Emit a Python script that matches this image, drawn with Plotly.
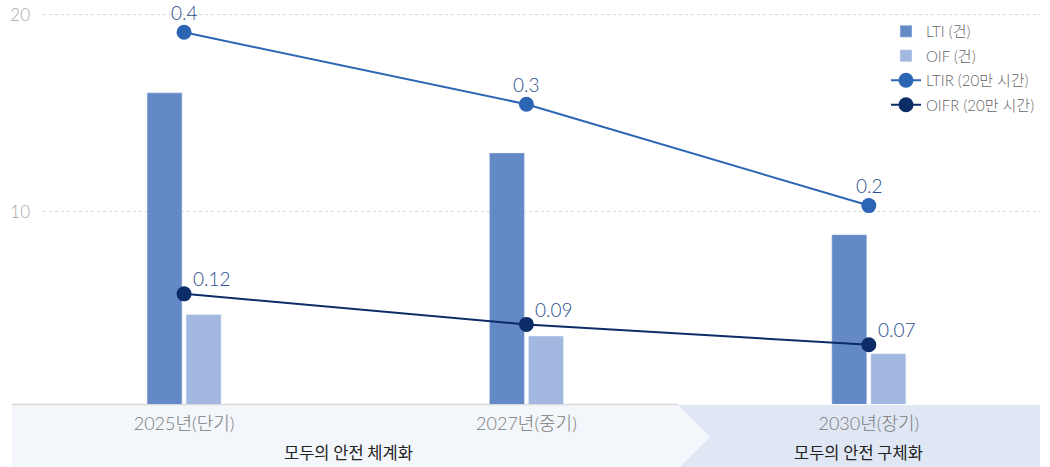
import math
import plotly.graph_objects as go

# ---- data -------------------------------------------------------------
periods = ["2025년(단기)", "2027년(중기)", "2030년(장기)"]
lti_counts = [16.05, 13.0, 8.85]       # LTI (건)
oif_counts = [4.8, 3.7, 2.8]           # OIF (건)
ltir_rates = [0.4, 0.3, 0.2]           # LTIR (20만 시간)
oifr_rates = [0.12, 0.09, 0.07]        # OIFR (20만 시간)
phase_titles = ["모두의 안전 체계화", "모두의 안전 구체화"]

# ---- layout geometry (pixels) ----------------------------------------
W, H = 1050, 467
ML, MR, MT, MB = 43, 10, 0, 63
PW, PH = W - ML - MR, H - MT - MB

def px(x):
    return (x - ML) / PW

def py(y):
    return (H - MB - y) / PH

FONT = "'Noto Sans CJK KR', 'Noto Sans', sans-serif"
NUMFONT = "Lato, 'Noto Sans CJK KR', sans-serif"
C_LTI, C_OIF = "#6389c6", "#a2b8e0"
C_LTIR, C_OIFR = "#2c65b4", "#0c2c68"
C_LABEL = "#2e4f8e"

fig = go.Figure()

fig.add_trace(go.Bar(
    x=periods, y=lti_counts, name="LTI (건)", marker_color=C_LTI,
    legendgroup="a", hoverinfo="skip"))
fig.add_trace(go.Bar(
    x=periods, y=oif_counts, name="OIF (건)", marker_color=C_OIF,
    legendgroup="b", hoverinfo="skip"))

fig.add_trace(go.Scatter(
    x=periods, y=ltir_rates, name="LTIR (20만 시간)", yaxis="y2",
    mode="lines+markers",
    line=dict(color=C_LTIR, width=2), marker=dict(size=15, color=C_LTIR),
    cliponaxis=False, legendgroup="c"))
fig.add_trace(go.Scatter(
    x=periods, y=oifr_rates, name="OIFR (20만 시간)", yaxis="y3",
    mode="lines+markers",
    line=dict(color=C_OIFR, width=2), marker=dict(size=15, color=C_OIFR),
    cliponaxis=False, legendgroup="d"))

# phase bands beneath the category axis
shapes = [
    dict(type="rect", xref="paper", yref="paper", layer="below",
         x0=px(675), x1=px(1040), y0=py(405), y1=py(467),
         fillcolor="#dfe7f4", line_width=0),
    dict(type="path", xref="paper", yref="paper", layer="below",
         path=(f"M{px(12)},{py(405)} L{px(678)},{py(405)} L{px(710)},{py(437)} "
               f"L{px(680)},{py(467)} L{px(12)},{py(467)} Z"),
         fillcolor="#f3f6fb", line_width=0),
    dict(type="line", xref="paper", yref="paper", layer="below",
         x0=px(12), x1=px(678), y0=py(404.5), y1=py(404.5),
         line=dict(color="#d9d9d9", width=1.5)),
]

annotations = [
    dict(text=phase_titles[0], xref="paper", yref="paper", x=px(348), y=py(452),
         showarrow=False, font=dict(size=16.5, color="#222222", family=FONT),
         xanchor="center", yanchor="middle"),
    dict(text=phase_titles[1], xref="paper", yref="paper", x=px(858), y=py(452),
         showarrow=False, font=dict(size=16.5, color="#222222", family=FONT),
         xanchor="center", yanchor="middle"),
]
# LTIR value labels centred above each marker (log axis: position in log10)
for cat, v in zip(periods, ltir_rates):
    annotations.append(dict(
        text=f"{v:g}", xref="x", yref="y2", x=cat, y=math.log10(v),
        showarrow=False, xanchor="center", yanchor="middle", yshift=20,
        font=dict(size=19, color=C_LABEL, family=NUMFONT, weight=300)))
# OIFR value labels sit up and to the right of each marker
for cat, v in zip(periods, oifr_rates):
    annotations.append(dict(
        text=f"{v:g}", xref="x", yref="y3", x=cat, y=v, showarrow=False,
        xanchor="left", yanchor="middle", xshift=7, yshift=15,
        font=dict(size=19, color=C_LABEL, family=NUMFONT, weight=300)))

fig.update_layout(
    width=W, height=H,
    margin=dict(l=ML, r=MR, t=MT, b=MB, pad=0),
    paper_bgcolor="white", plot_bgcolor="white",
    font=dict(family=FONT),
    barmode="group", bargap=0.772, bargroupgap=0.103,
    showlegend=True,
    legend=dict(x=1, xanchor="right", y=py(15), yanchor="top",
                font=dict(size=15, color="#666666", family=NUMFONT, weight=300),
                bgcolor="rgba(0,0,0,0)", traceorder="grouped",
                tracegroupgap=2, itemwidth=30),
    xaxis=dict(type="category", range=[-0.412, 2.5], showgrid=False,
               showline=False, zeroline=False, ticks="",
               tickfont=dict(size=18, color="#7a7a7a", family=NUMFONT, weight=300),
               ticklabelstandoff=7),
    yaxis=dict(range=[0.254, 20.76], tickvals=[10, 20], showgrid=True,
               griddash="dot", gridcolor="#d4d4d4", gridwidth=1,
               zeroline=False, showline=False, ticks="",
               tickfont=dict(size=17, color="#a6a6a6", family=NUMFONT, weight=300),
               ticklabelstandoff=12),
    yaxis2=dict(type="log", range=[-1.0437, -0.3418], overlaying="y",
                side="right", visible=False),
    yaxis3=dict(range=[0.0118, 0.4086], overlaying="y", side="right",
                visible=False),
    shapes=shapes, annotations=annotations,
)

fig.write_html("out.html")
